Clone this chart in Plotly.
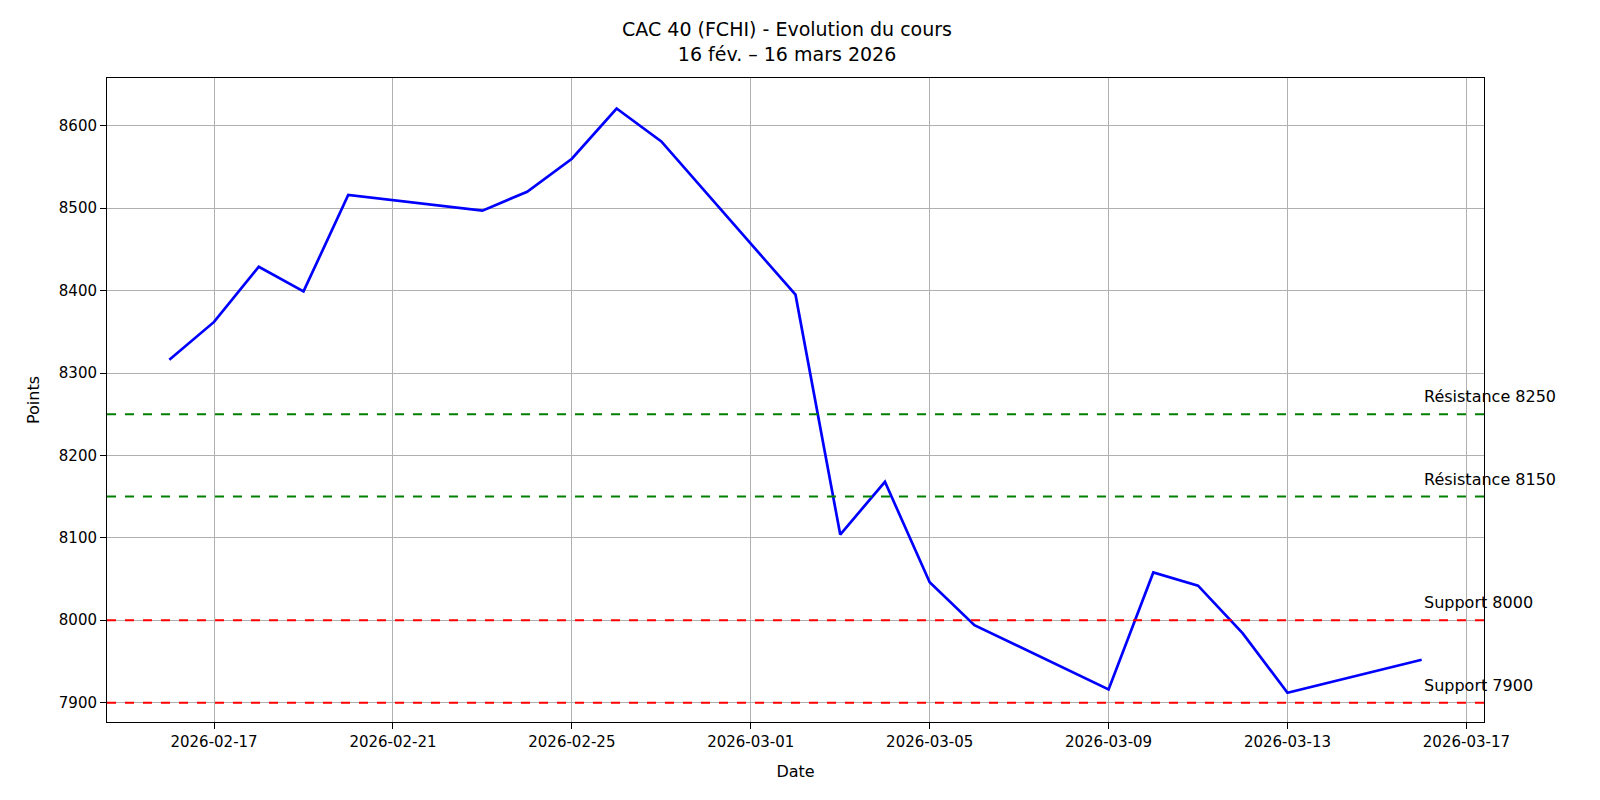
import plotly.graph_objects as go

dates = ["2026-02-16","2026-02-17","2026-02-18","2026-02-19","2026-02-20","2026-02-23","2026-02-24",
         "2026-02-25","2026-02-26","2026-02-27","2026-03-02","2026-03-03","2026-03-04","2026-03-05",
         "2026-03-06","2026-03-09","2026-03-10","2026-03-11","2026-03-12","2026-03-13","2026-03-16"]
closes = [8316,8362,8429,8399,8516,8497,8520,8560,8621,8581,8395,8104,8168,8046,7994,7916,8058,8042,7984,7912,7952]
levels = [8250, 8150, 8000, 7900]
level_labels = ["Résistance 8250","Résistance 8150","Support 8000","Support 7900"]
level_colors = ["green","green","red","red"]
xticks = ["2026-02-17","2026-02-21","2026-02-25","2026-03-01","2026-03-05","2026-03-09","2026-03-13","2026-03-17"]

fig = go.Figure()
fig.add_trace(go.Scatter(x=dates, y=closes, mode="lines", line=dict(color="blue", width=2.7), showlegend=False))
for lv, lab, col in zip(levels, level_labels, level_colors):
    fig.add_hline(y=lv, line=dict(color=col, width=2, dash="dash"))
    fig.add_annotation(x=dates[-1], y=lv, text=lab, showarrow=False, xanchor="left", yanchor="bottom",
                       yshift=6, font=dict(size=16, color="black"))

axis = dict(showgrid=True, gridcolor="#b0b0b0", gridwidth=1, showline=True, linecolor="black", mirror=True,
            ticks="outside", tickcolor="black", ticklen=6, tickfont=dict(size=15, color="black"), zeroline=False)
fig.update_layout(
    width=1600, height=800, plot_bgcolor="white", paper_bgcolor="white",
    font=dict(family="DejaVu Sans", color="black"),
    margin=dict(l=99, r=124, t=70, b=86),
    title=dict(text="CAC 40 (FCHI) - Evolution du cours<br>16 fév. – 16 mars 2026", x=0.4869, xanchor="center",
               y=0.965, yanchor="top", font=dict(size=19)),
    xaxis=dict(axis, type="date", range=["2026-02-14 14:33", "2026-03-17 09:27"], tickvals=xticks,
               ticktext=xticks, title=dict(text="Date", font=dict(size=16))),
    yaxis=dict(axis, range=[7876.5, 8658], dtick=100, title=dict(text="Points", font=dict(size=16))),
)
fig.write_html("out.html")
